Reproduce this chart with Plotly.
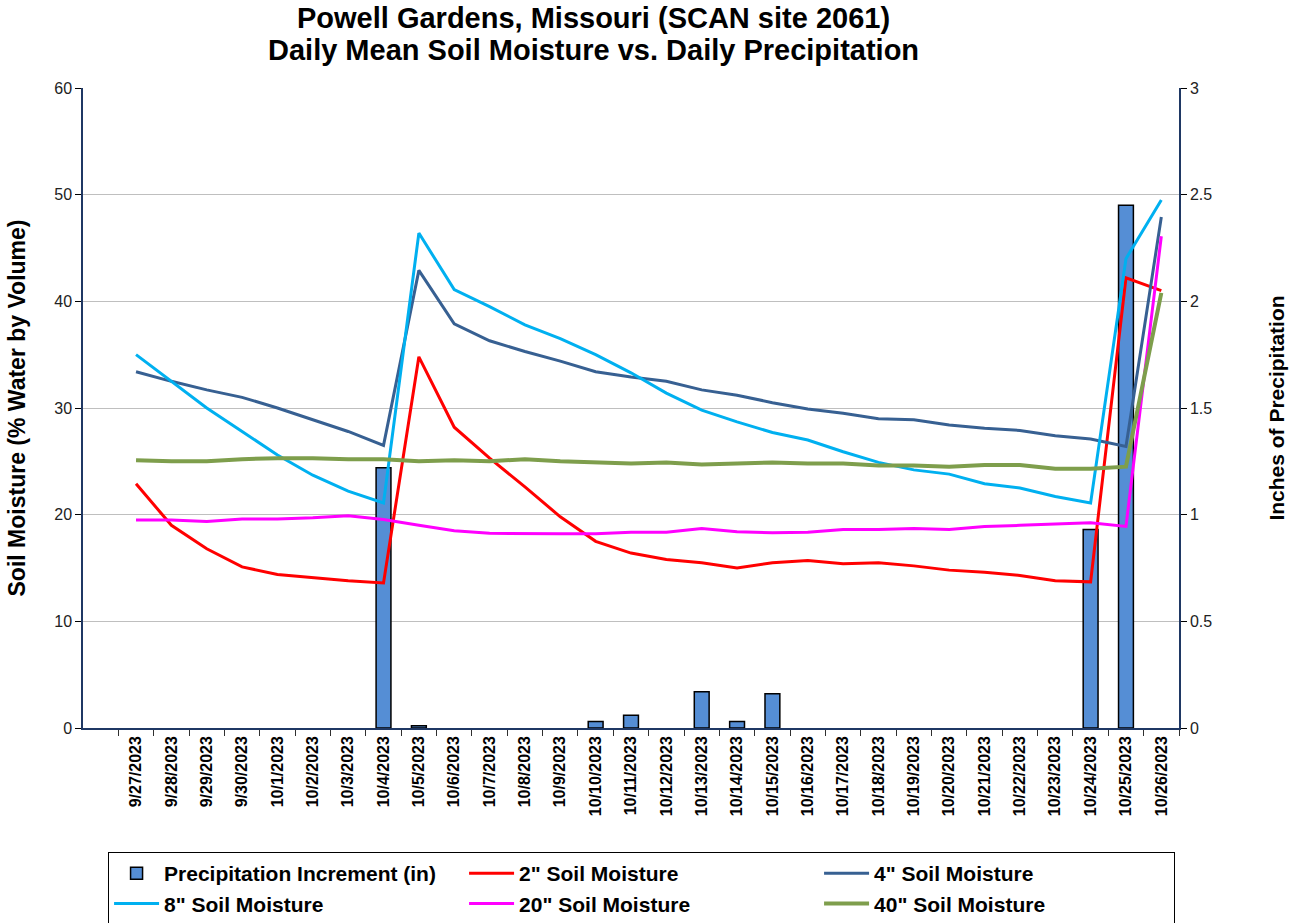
import plotly.graph_objects as go

dates = ["9/27/2023", "9/28/2023", "9/29/2023", "9/30/2023", "10/1/2023", "10/2/2023",
         "10/3/2023", "10/4/2023", "10/5/2023", "10/6/2023", "10/7/2023", "10/8/2023",
         "10/9/2023", "10/10/2023", "10/11/2023", "10/12/2023", "10/13/2023", "10/14/2023",
         "10/15/2023", "10/16/2023", "10/17/2023", "10/18/2023", "10/19/2023", "10/20/2023",
         "10/21/2023", "10/22/2023", "10/23/2023", "10/24/2023", "10/25/2023", "10/26/2023"]

precip = [0, 0, 0, 0, 0, 0, 0, 1.22, 0.01, 0, 0, 0, 0, 0.03, 0.06, 0, 0.17, 0.03, 0.16,
          0, 0, 0, 0, 0, 0, 0, 0, 0.93, 2.45, 0]

soil2 = [22.9, 19.0, 16.8, 15.1, 14.4, 14.1, 13.8, 13.6, 34.8, 28.2, 25.3, 22.6, 19.8, 17.5,
         16.4, 15.8, 15.5, 15.0, 15.5, 15.7, 15.4, 15.5, 15.2, 14.8, 14.6, 14.3, 13.8, 13.7,
         42.2, 41.0]
soil4 = [33.4, 32.5, 31.7, 31.0, 30.0, 28.9, 27.8, 26.5, 42.9, 37.9, 36.3, 35.3, 34.4, 33.4,
         32.9, 32.5, 31.7, 31.2, 30.5, 29.9, 29.5, 29.0, 28.9, 28.4, 28.1, 27.9, 27.4, 27.1,
         26.4, 47.9]
soil8 = [35.0, 32.5, 30.0, 27.8, 25.6, 23.7, 22.2, 21.1, 46.4, 41.1, 39.5, 37.8, 36.5, 35.0,
         33.3, 31.4, 29.8, 28.7, 27.7, 27.0, 25.9, 24.9, 24.2, 23.8, 22.9, 22.5, 21.7, 21.1,
         44.0, 49.5]
soil20 = [19.5, 19.5, 19.35, 19.6, 19.6, 19.7, 19.9, 19.55, 19.0, 18.5, 18.25, 18.2, 18.2, 18.2,
          18.35, 18.35, 18.7, 18.4, 18.3, 18.35, 18.6, 18.6, 18.7, 18.6, 18.9, 19.0, 19.1, 19.25,
          18.9, 46.1]
soil40 = [25.1, 25.0, 25.0, 25.2, 25.3, 25.3, 25.2, 25.2, 25.0, 25.1, 25.0, 25.2, 25.0, 24.9,
          24.8, 24.9, 24.7, 24.8, 24.9, 24.8, 24.8, 24.6, 24.6, 24.5, 24.65, 24.65, 24.3, 24.3,
          24.5, 40.8]

title_lines = ["Powell Gardens, Missouri (SCAN site 2061)",
               "Daily Mean Soil Moisture vs. Daily Precipitation"]

series = [
    ("2\" Soil Moisture", soil2, "#FF0000", 3),
    ("4\" Soil Moisture", soil4, "#376092", 3),
    ("8\" Soil Moisture", soil8, "#00B0F0", 3),
    ("20\" Soil Moisture", soil20, "#FF00FF", 3),
    ("40\" Soil Moisture", soil40, "#7E9E4C", 4),
]

FONT = "Arial, Liberation Sans, sans-serif"
AXC = "#1F3864"

fig = go.Figure()
fig.add_trace(go.Bar(
    x=dates, y=[v if v > 0 else None for v in precip], name="Precipitation Increment (in)",
    marker=dict(color="#558ED5", line=dict(color="black", width=1.5)),
    width=0.42, yaxis="y",
))
for name, vals, col, w in series:
    fig.add_trace(go.Scatter(
        x=dates, y=vals, name=name, mode="lines",
        line=dict(color=col, width=w), yaxis="y2",
    ))

for txt, ypos in zip(title_lines, [1.109, 1.059]):
    fig.add_annotation(
        text="<b>" + txt + "</b>", xref="paper", yref="paper", x=0.4662, y=ypos,
        xanchor="center", yanchor="middle", showarrow=False,
        font=dict(size=29, family=FONT, color="black"),
    )

fig.update_layout(
    width=1302, height=923,
    margin=dict(l=83, r=123, t=88, b=195),
    paper_bgcolor="white", plot_bgcolor="white",
    font=dict(family=FONT, color="black"),
    showlegend=True,
    xaxis=dict(
        type="category", categoryorder="array", categoryarray=dates,
        range=[-1.5, 29.5], tickson="boundaries", ticks="outside", ticklen=6,
        tickcolor="#303030", tickwidth=1,
        tickangle=-90, tickfont=dict(size=16, family=FONT, color="black", weight="bold"),
        showline=True, linecolor=AXC, linewidth=1.5, showgrid=False, automargin=False,
    ),
    yaxis=dict(
        side="right", range=[0, 3], dtick=0.5, tick0=0,
        ticks="outside", ticklen=6, tickcolor="black",
        tickfont=dict(size=16, family=FONT, color="#222"),
        showline=True, linecolor=AXC, linewidth=1.5, mirror=False,
        showgrid=True, gridcolor="#BFBFBF", gridwidth=1.2, zeroline=False,
        title=dict(text="<b>Inches of Precipitation</b>", font=dict(size=21, family=FONT),
                   standoff=58),
        automargin=False,
    ),
    yaxis2=dict(
        side="left", overlaying="y", range=[0, 60], dtick=10, tick0=0,
        ticks="outside", ticklen=6, tickcolor="black",
        tickfont=dict(size=16, family=FONT, color="#222"),
        showline=True, linecolor=AXC, linewidth=1.5, showgrid=False, zeroline=False,
        title=dict(text="<b>Soil Moisture (% Water by Volume)</b>", font=dict(size=23, family=FONT),
                   standoff=22),
        automargin=False,
    ),
    legend=dict(
        orientation="h", xref="container", yref="container",
        x=0.083, xanchor="left", y=0.0769, yanchor="top",
        entrywidth=295, entrywidthmode="pixels", itemwidth=45,
        bordercolor="black", borderwidth=1, bgcolor="white",
        font=dict(size=21, family=FONT, color="black", weight="bold"),
        traceorder="normal",
    ),
    bargap=0.58,
)

fig.write_html("out.html", config={"displayModeBar": False},
               post_script="document.body.style.margin='0';document.body.style.overflow='hidden';")
